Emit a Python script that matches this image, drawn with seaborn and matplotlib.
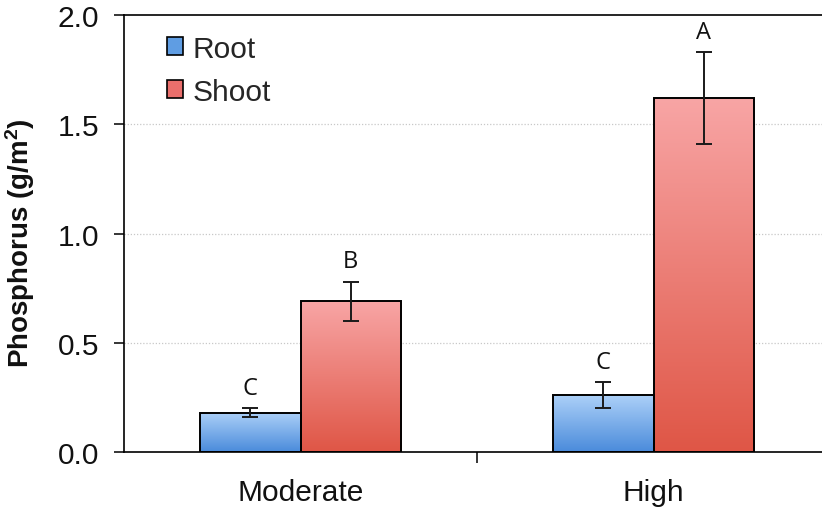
import numpy as np
import pandas as pd
import matplotlib
matplotlib.use("Agg")
import matplotlib.pyplot as plt
import seaborn as sns
from matplotlib.patches import Patch
from matplotlib.colors import LinearSegmentedColormap

# ---- data ----
conditions = ["Moderate", "High"]
parts = ["Root", "Shoot"]
root_values = [0.18, 0.26]
shoot_values = [0.69, 1.62]
root_errors = [0.022, 0.06]
shoot_errors = [0.09, 0.21]
root_letters = ["C", "C"]
shoot_letters = ["B", "A"]
y_ticks = [0.0, 0.5, 1.0, 1.5, 2.0]

rows = []
for i, c in enumerate(conditions):
    rows.append(dict(condition=c, part="Root", value=root_values[i], err=root_errors[i], letter=root_letters[i]))
    rows.append(dict(condition=c, part="Shoot", value=shoot_values[i], err=shoot_errors[i], letter=shoot_letters[i]))
df = pd.DataFrame(rows)

sns.set_theme(style="white")
plt.rcParams["font.family"] = ["Liberation Sans", "DejaVu Sans"]

fig = plt.figure(figsize=(8.22, 5.10), dpi=100)
ax = fig.add_axes([124 / 822, 57 / 510, 706 / 822, 437 / 510])

base_colors = {"Root": "#5f9de3", "Shoot": "#ea6f6c"}
grad = {
    "Root": ("#4a8bdb", "#acd0f8"),   # bottom, top
    "Shoot": ("#df5646", "#f8a5a5"),
}

sns.barplot(data=df, x="condition", y="value", hue="part", order=conditions,
            hue_order=parts, palette=base_colors, width=0.57, errorbar=None,
            legend=False, ax=ax, edgecolor="black", linewidth=1.4, zorder=3)

# map patches to rows (sorted by x position)
bars = sorted([p for p in ax.patches], key=lambda p: p.get_x())
cond_rank = {c: i for i, c in enumerate(conditions)}
part_rank = {p: i for i, p in enumerate(parts)}
ordered = df.assign(_c=df["condition"].map(cond_rank), _p=df["part"].map(part_rank))
ordered = ordered.sort_values(["_c", "_p"]).reset_index(drop=True)

for p, (_, r) in zip(bars, ordered.iterrows()):
    x0, w, h = p.get_x(), p.get_width(), p.get_height()
    cmap = LinearSegmentedColormap.from_list("g", list(grad[r["part"]]))
    g = np.linspace(1, 0, 256).reshape(-1, 1)
    im = ax.imshow(g, cmap=cmap, extent=[x0, x0 + w, 0, h], aspect="auto",
                   origin="upper", zorder=2.5, interpolation="bilinear")
    im.set_clip_path(p)
    p.set_facecolor("none")
    xc = x0 + w / 2
    ax.errorbar(xc, r["value"], yerr=r["err"], fmt="none", ecolor="#1a1a1a",
                elinewidth=1.4, capsize=6, capthick=1.4, zorder=4)
    ax.annotate(r["letter"], (xc, r["value"] + r["err"]), xytext=(0, 6),
                textcoords="offset points", ha="center", va="bottom",
                fontsize=17, family=["Open Sans", "DejaVu Sans"], color="#111111")

ax.set_xlim(-0.5, 1.5)
ax.set_ylim(0, 2.0)
ax.set_yticks(y_ticks)
ax.set_yticklabels([f"{v:.1f}" for v in y_ticks])
ax.set_xticks(range(len(conditions)))
ax.set_xticklabels(conditions)
ax.set_xticks([0.5], minor=True)
ax.tick_params(axis="x", which="major", length=0, pad=19, labelsize=21.5)
ax.tick_params(axis="x", which="minor", length=8, width=1.1, direction="out", bottom=True, color="black")
ax.tick_params(axis="y", which="major", length=7, width=1.1, direction="out", left=True,
               pad=11, labelsize=21.5, color="black")
for lab in ax.get_yticklabels() + ax.get_xticklabels():
    lab.set_color("#111111")

ax.set_xlabel("")
ax.set_ylabel("Phosphorus (g/m$\\mathregular{^2}$)", fontsize=20, fontweight="bold", color="#111111")
ax.yaxis.set_label_coords(-0.123, 0.48)

for g_y in [0.5, 1.0, 1.5]:
    ax.axhline(g_y, color="#c8c8c8", lw=0.9, ls=(0, (1, 1.5)), zorder=1)

for s in ["left", "bottom", "top"]:
    ax.spines[s].set_visible(True)
    ax.spines[s].set_color("black")
    ax.spines[s].set_linewidth(1.2)
ax.spines["right"].set_visible(False)

handles = [Patch(facecolor=base_colors[p], edgecolor="black", linewidth=1.2, label=p) for p in parts]
ax.legend(handles=handles, loc="upper left", bbox_to_anchor=(0.061, 0.955), frameon=False,
          fontsize=21.5, handlelength=0.55, handleheight=0.55, handletextpad=0.3,
          labelspacing=0.5, borderpad=0, borderaxespad=0)

fig.savefig("out.png", dpi=100)
